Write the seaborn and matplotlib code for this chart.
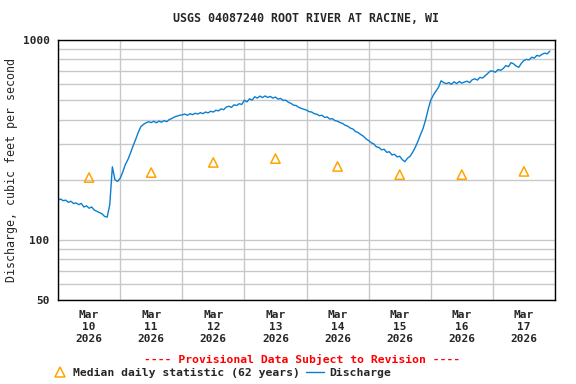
import pandas as pd
import matplotlib
matplotlib.use("Agg")
import matplotlib.pyplot as plt
import matplotlib.dates as mdates
from matplotlib.ticker import FixedLocator, FixedFormatter, NullLocator
from matplotlib.lines import Line2D
import seaborn as sns

# Hourly discharge (cfs), starting Mar 10 2026 00:00
discharge = [
    158, 160, 157, 158, 154, 156, 152, 153, 150, 152, 146, 148,
    144, 146, 141, 139, 137, 135, 131, 130, 150, 232, 200, 196,
    203, 218, 238, 252, 272, 295, 318, 345, 368, 378, 385, 390,
    386, 392, 385, 393, 388, 395, 390, 400, 405, 412, 416, 420,
    422, 426, 420, 428, 423, 430, 426, 433, 428, 436, 432, 440,
    436, 445, 442, 452, 448, 462, 466, 460, 474, 470, 480, 476,
    500, 490, 508, 500, 520, 512, 524, 515, 525, 516, 522, 512,
    518, 506, 510, 498, 500, 488, 482, 472, 470, 460, 455, 450,
    446, 438, 436, 428, 425, 418, 420, 410, 412, 402, 404, 395,
    392, 386, 382, 374, 370, 362, 358, 348, 344, 336, 330, 320,
    314, 306, 302, 292, 290, 282, 284, 274, 276, 266, 268, 260,
    262, 252, 246, 256, 262, 274, 290, 310, 335, 360, 398, 450,
    500, 530, 555, 580, 625, 612, 605, 612, 600, 618, 605, 620,
    608, 616, 622, 612, 632, 640, 630, 650, 645, 662, 680, 700,
    698, 690, 712, 705, 720, 745, 735, 770, 760, 740, 730, 765,
    790, 800, 795, 820, 812, 838, 830, 848, 860, 852, 880,
]
start = "2026-03-10 00:00"

# Median daily statistic (62 years), plotted at noon of each day
median_days = ["2026-03-10", "2026-03-11", "2026-03-12", "2026-03-13",
               "2026-03-14", "2026-03-15", "2026-03-16", "2026-03-17"]
median_vals = [205, 217, 244, 255, 233, 212, 212, 220]

grid_vals = [50, 60, 70, 80, 90, 100, 200, 300, 400, 500, 600, 700, 800, 900, 1000]
label_vals = {50: "50", 100: "100", 1000: "1000"}

times = pd.date_range(start, periods=len(discharge), freq="h")
median_times = pd.to_datetime(median_days) + pd.Timedelta(hours=12)

sns.set_style("white")
plt.rcParams['font.family'] = ['DejaVu Sans Mono']
plt.rcParams['font.weight'] = 'bold'
plt.rcParams['font.size'] = 8

fig = plt.figure(figsize=(5.76, 3.84), dpi=100)
ax = fig.add_axes([58 / 576, 1 - 300 / 384, (555 - 58) / 576, 260 / 384])

sns.lineplot(x=times, y=discharge, ax=ax, color="#0a7fd0", lw=1)
sns.scatterplot(x=median_times, y=median_vals, ax=ax, marker="^", s=45,
                facecolor="none", edgecolor="#ffa500", linewidth=1.1, zorder=3)

ax.set_yscale("log")
ax.set_ylim(50, 1000)
ax.yaxis.set_major_locator(FixedLocator(grid_vals))
ax.yaxis.set_major_formatter(FixedFormatter([label_vals.get(v, "") for v in grid_vals]))
ax.yaxis.set_minor_locator(NullLocator())

ax.set_xlim(pd.Timestamp("2026-03-10"), pd.Timestamp("2026-03-18"))
ax.xaxis.set_major_locator(mdates.HourLocator(byhour=12))
ax.xaxis.set_major_formatter(mdates.DateFormatter("%b\n%d\n%Y"))
ax.xaxis.set_minor_locator(mdates.HourLocator(byhour=0))

ax.grid(True, which="major", axis="y", color="#c8c8c8", lw=1)
ax.grid(True, which="minor", axis="x", color="#c8c8c8", lw=1)
ax.set_axisbelow(True)

ax.tick_params(axis="both", which="both", length=0)
ax.tick_params(axis="x", pad=7)
ax.tick_params(axis="y", pad=6)
for lab in ax.get_xticklabels():
    lab.set_linespacing(1.25)
for sp in ax.spines.values():
    sp.set_color("black")
    sp.set_linewidth(1)

ax.set_xlabel("")
ax.set_ylabel("Discharge, cubic feet per second", fontsize=8.4, labelpad=3)

fig.text(306 / 576, 1 - 19 / 384, "USGS 04087240 ROOT RIVER AT RACINE, WI",
         ha="center", va="center", fontsize=8.4)
fig.text(302 / 576, 1 - 359 / 384, "---- Provisional Data Subject to Revision ----",
         ha="center", va="center", fontsize=8.2, color="red")

handles = [
    Line2D([], [], ls="none", marker="^", ms=7, mfc="none", mec="#ffa500", mew=1.1),
    Line2D([], [], color="#0a7fd0", lw=1),
]
fig.legend(handles, ["Median daily statistic (62 years)", "Discharge"],
           loc="center left", bbox_to_anchor=(45 / 576, 1 - 373 / 384), ncol=2,
           frameon=False, fontsize=8.2, handlelength=1.6, handletextpad=0.4,
           columnspacing=0.5, borderpad=0)

fig.savefig("out.png", dpi=100)
